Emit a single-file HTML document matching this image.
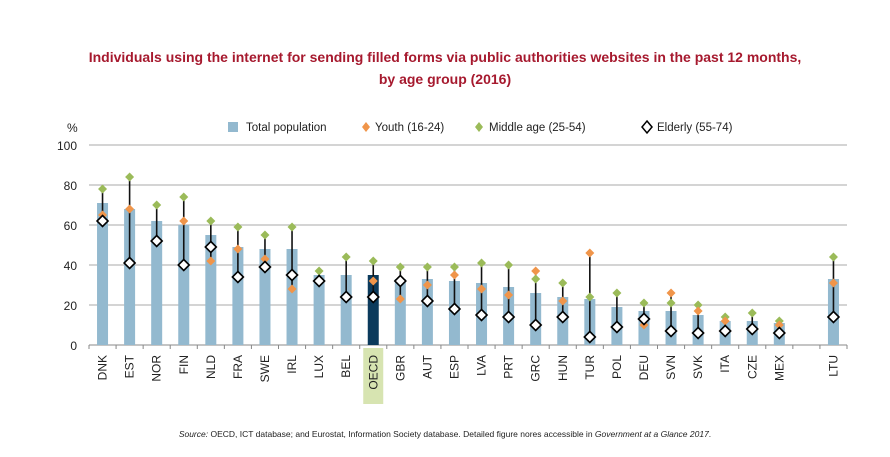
<!DOCTYPE html>
<html><head><meta charset="utf-8"><style>
body{margin:0;background:#fff;width:890px;height:452px;overflow:hidden;font-family:"Liberation Sans",sans-serif}
</style></head><body>
<svg id="chart" width="890" height="452" xmlns="http://www.w3.org/2000/svg">
<text x="445" y="62" text-anchor="middle" font-size="14" font-weight="bold" fill="#a6192e">Individuals using the internet for sending filled forms via public authorities websites in the past 12 months,</text>
<text x="445" y="84" text-anchor="middle" font-size="14" font-weight="bold" fill="#a6192e">by age group (2016)</text>
<text x="67" y="132" font-size="12" fill="#222">%</text>
<g>
<rect x="228" y="122" width="10" height="10" fill="#93b9cf"/>
<text x="246" y="131" font-size="11.5" fill="#222">Total population</text>
<path d="M366,122 l4,5 l-4,5 l-4,-5z" fill="#f0954a"/>
<text x="375" y="131" font-size="11.5" fill="#222">Youth (16-24)</text>
<path d="M479,122 l4,5 l-4,5 l-4,-5z" fill="#9bbb59"/>
<text x="489" y="131" font-size="11.5" fill="#222">Middle age (25-54)</text>
<path d="M647,121 l5,6 l-5,6 l-5,-6z" fill="#fff" stroke="#000" stroke-width="1.5"/>
<text x="657" y="131" font-size="11.5" fill="#222">Elderly (55-74)</text>
</g>
<g id="plot"></g>
<text x="445" y="437" text-anchor="middle" font-size="8.5" fill="#222"><tspan font-style="italic">Source:</tspan> OECD, ICT database; and Eurostat, Information Society database. Detailed figure nores accessible in <tspan font-style="italic">Government at a Glance 2017</tspan>.</text>
</svg>
<script>
const categories=["DNK","EST","NOR","FIN","NLD","FRA","SWE","IRL","LUX","BEL","OECD","GBR","AUT","ESP","LVA","PRT","GRC","HUN","TUR","POL","DEU","SVN","SVK","ITA","CZE","MEX","","LTU"];
const totalValues=[71,68,62,60,55,49,48,48,35,35,35,33,33,32,31,29,26,24,23,19,17,17,15,12,12,11,null,33];
const youthValues=[65,68,null,62,42,48,43,28,32,null,32,23,30,35,28,25,37,22,46,null,10,26,17,12,8,10,null,31];
const middleValues=[78,84,70,74,62,59,55,59,37,44,42,39,39,39,41,40,33,31,24,26,21,21,20,14,16,12,null,44];
const elderlyValues=[62,41,52,40,49,34,39,35,32,24,24,32,22,18,15,14,10,14,4,9,13,7,6,7,8,6,null,14];
const yTicks=[0,20,40,60,80,100];
const NS="http://www.w3.org/2000/svg";
const g=document.getElementById('plot');
const x0=89,x1=847,yBase=345,yTop=145;
const step=(x1-x0)/categories.length;
function xPos(i){return x0+step*(i+0.5);}
function yPos(v){return yBase-(v/100)*(yBase-yTop);}
function el(t,a){const e=document.createElementNS(NS,t);for(const k in a)e.setAttribute(k,a[k]);g.appendChild(e);return e;}
yTicks.forEach(v=>{
 const l=el('line',{x1:x0,x2:x1,y1:yPos(v),y2:yPos(v),stroke:v===0?'#888':'#aaa','stroke-width':1});
 
 
 const t=el('text',{x:x0-12,y:yPos(v)+5,'text-anchor':'end','font-size':12,fill:'#222'});
 t.textContent=v;
 
 
});
const hl=el('rect',{x:xPos(10)-10,y:348,width:20,height:56,fill:'#d7e4b1'});


for(let i=0;i<=categories.length;i++){
 const tx=x0+step*i;
 const tk=el('line',{x1:tx,x2:tx,y1:yBase,y2:yBase+4,stroke:'#888'});
 
 
}
function diamond(cx,cy,r,fill,stroke,name){
 const p=el('path',{d:`M${cx},${cy-r} L${cx+r},${cy} L${cx},${cy+r} L${cx-r},${cy}Z`,fill:fill});
 if(stroke){p.setAttribute('stroke',stroke);p.setAttribute('stroke-width',1.6);}
 
 
}
categories.forEach((c,i)=>{
 if(totalValues[i]==null)return;
 const cx=xPos(i);
 const b=el('rect',{x:cx-5.5,y:yPos(totalValues[i]),width:11,height:yBase-yPos(totalValues[i]),fill:c==='OECD'?'#0b3a5c':'#93b9cf'});
 
 
 const vals=[youthValues[i],middleValues[i],elderlyValues[i]].filter(v=>v!=null);
 const ln=el('line',{x1:cx,x2:cx,y1:yPos(Math.max(...vals)),y2:yPos(Math.min(...vals)),stroke:'#111','stroke-width':1.6});
 
 
 if(middleValues[i]!=null)diamond(cx,yPos(middleValues[i]),4.5,'#9bbb59',null,'middle-point-'+c.toLowerCase());
 if(youthValues[i]!=null)diamond(cx,yPos(youthValues[i]),4.5,'#f0954a',null,'youth-point-'+c.toLowerCase());
 diamond(cx,yPos(elderlyValues[i]),5.5,'#fff','#000','elderly-point-'+c.toLowerCase());
 const t=el('text',{x:0,y:0,'text-anchor':'end','font-size':12,fill:'#222',transform:`translate(${cx+4},355) rotate(-90)`});
 t.textContent=c;
 
 
});
</script>
</body></html>
